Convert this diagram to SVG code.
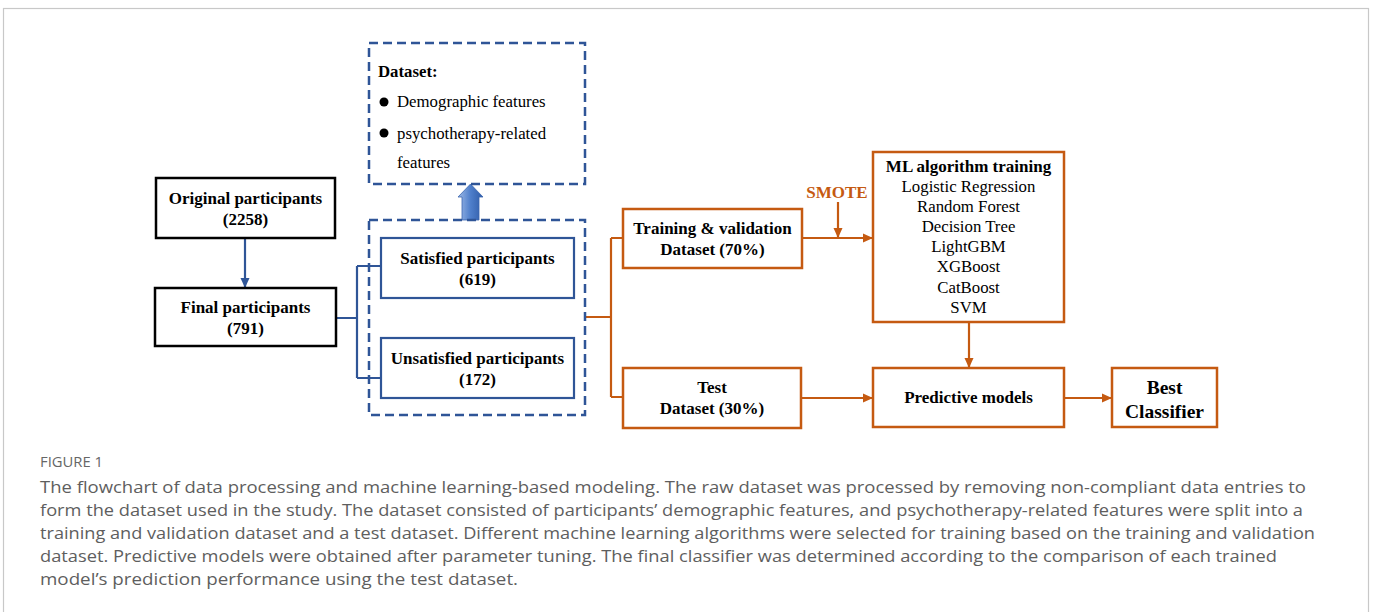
<svg xmlns="http://www.w3.org/2000/svg" width="1375" height="612" viewBox="0 0 1375 612">
<style>
.bx{fill:#fff;stroke:#000;stroke-width:2.5}
.bb{fill:#fff;stroke:#2F5597;stroke-width:2.2}
.bo{fill:#fff;stroke:#C55A11;stroke-width:2.5}
.dash{fill:none;stroke:#2F5597;stroke-width:2.5;stroke-dasharray:9 5}
.t{font-family:"Liberation Serif","Times New Roman",serif;font-size:16.8px;fill:#000}
.tb{font-family:"Liberation Serif","Times New Roman",serif;font-size:17px;font-weight:bold;fill:#000;text-anchor:middle}
.tc{font-family:"Liberation Serif","Times New Roman",serif;font-size:16.8px;fill:#000;text-anchor:middle}
.cb{fill:none;stroke:#2F5597;stroke-width:2.2}
.co{fill:none;stroke:#C55A11;stroke-width:2.2}
.cap{font-family:"Open Sans","Noto Sans",sans-serif;font-size:16.5px;fill:#5e5e5e}
</style>
<defs>
<marker id="ab" markerWidth="10" markerHeight="10" refX="9" refY="5" orient="auto" markerUnits="userSpaceOnUse"><path d="M0,0.5 L10,5 L0,9.5 Z" fill="#2F5597"/></marker>
<marker id="ao" markerWidth="10" markerHeight="10" refX="9" refY="5" orient="auto" markerUnits="userSpaceOnUse"><path d="M0,0.5 L10,5 L0,9.5 Z" fill="#C55A11"/></marker>
<linearGradient id="gb" x1="0" y1="0" x2="1" y2="0"><stop offset="0" stop-color="#9DB9E6"/><stop offset="0.5" stop-color="#4F7FCB"/><stop offset="1" stop-color="#2F5CA8"/></linearGradient>
</defs>
<rect x="3.5" y="8.5" width="1365" height="620" fill="#fff" stroke="#c8c8c8" stroke-width="1.2"/>

<g id="connectors">
<path class="cb" d="M245,238 V287" marker-end="url(#ab)"/>
<path class="cb" d="M336,318 H357 M357,266 V378 M357,266 H381 M357,378 H381"/>
<path class="co" d="M586,317 H611 M611,238 V397 M611,238 H623 M611,397 H623"/>
<path class="co" d="M802,238 H872" marker-end="url(#ao)"/>
<path class="co" d="M838,202 V237" marker-end="url(#ao)"/>
<path class="co" d="M801,398 H872" marker-end="url(#ao)"/>
<path class="co" d="M969,322 V367" marker-end="url(#ao)"/>
<path class="co" d="M1064,398 H1111" marker-end="url(#ao)"/>
<path d="M462,220 V197 H458 L470.5,184 L483,197 H479 V220 Z" fill="url(#gb)" stroke="#3A66AE" stroke-width="0.8"/>
</g>

<g id="dataset">
<rect class="dash" x="369" y="43" width="216" height="141"/>
<text class="t" x="378" y="77" font-weight="bold">Dataset:</text>
<circle cx="384" cy="102" r="4.5" fill="#000"/>
<text class="t" x="397" y="107">Demographic features</text>
<circle cx="384" cy="133" r="4.5" fill="#000"/>
<text class="t" x="397" y="139">psychotherapy-related</text>
<text class="t" x="397" y="168">features</text>
</g>

<g id="group-box">
<rect class="dash" x="369" y="220" width="216" height="195"/>
</g>

<g id="original">
<rect class="bx" x="156" y="178" width="179" height="60"/>
<text class="tb" x="245.5" y="204">Original participants</text>
<text class="tb" x="245.5" y="225">(2258)</text>
</g>

<g id="final">
<rect class="bx" x="155" y="288" width="181" height="58"/>
<text class="tb" x="245.5" y="313">Final participants</text>
<text class="tb" x="245.5" y="334">(791)</text>
</g>

<g id="satisfied">
<rect class="bb" x="381" y="238" width="193" height="60"/>
<text class="tb" x="477.5" y="264">Satisfied participants</text>
<text class="tb" x="477.5" y="285">(619)</text>
</g>

<g id="unsatisfied">
<rect class="bb" x="381" y="338" width="193" height="60"/>
<text class="tb" x="477.5" y="364">Unsatisfied participants</text>
<text class="tb" x="477.5" y="385">(172)</text>
</g>

<g id="training">
<rect class="bo" x="623" y="209" width="179" height="59"/>
<text class="tb" x="712.5" y="234">Training &amp; validation</text>
<text class="tb" x="712.5" y="255">Dataset (70%)</text>
</g>

<g id="smote">
<text class="tb" x="837" y="198" style="fill:#C55A11">SMOTE</text>
</g>

<g id="test">
<rect class="bo" x="623" y="368" width="178" height="60"/>
<text class="tb" x="712" y="393">Test</text>
<text class="tb" x="712" y="414">Dataset (30%)</text>
</g>

<g id="ml">
<rect class="bo" x="873" y="152" width="191" height="170"/>
<text class="tb" x="968.5" y="172">ML algorithm training</text>
<text class="tc" x="968.5" y="192">Logistic Regression</text>
<text class="tc" x="968.5" y="212">Random Forest</text>
<text class="tc" x="968.5" y="232">Decision Tree</text>
<text class="tc" x="968.5" y="252">LightGBM</text>
<text class="tc" x="968.5" y="272">XGBoost</text>
<text class="tc" x="968.5" y="293">CatBoost</text>
<text class="tc" x="968.5" y="313">SVM</text>
</g>

<g id="predictive">
<rect class="bo" x="873" y="368" width="191" height="59"/>
<text class="tb" x="968.5" y="403">Predictive models</text>
</g>

<g id="best">
<rect class="bo" x="1112" y="368" width="105" height="59"/>
<text class="tb" x="1164.5" y="394" style="font-size:19.5px">Best</text>
<text class="tb" x="1164.5" y="418" style="font-size:19.5px">Classifier</text>
</g>

<g id="caption">
<text x="40" y="467" style="font-family:'Open Sans','Noto Sans',sans-serif;font-size:14px;fill:#666" textLength="63" lengthAdjust="spacingAndGlyphs">FIGURE 1</text>
<text class="cap" x="40" y="493" textLength="1266" lengthAdjust="spacingAndGlyphs">The flowchart of data processing and machine learning-based modeling. The raw dataset was processed by removing non-compliant data entries to</text>
<text class="cap" x="40" y="516" textLength="1263" lengthAdjust="spacingAndGlyphs">form the dataset used in the study. The dataset consisted of participants’ demographic features, and psychotherapy-related features were split into a</text>
<text class="cap" x="40" y="539" textLength="1275" lengthAdjust="spacingAndGlyphs">training and validation dataset and a test dataset. Different machine learning algorithms were selected for training based on the training and validation</text>
<text class="cap" x="40" y="562" textLength="1237" lengthAdjust="spacingAndGlyphs">dataset. Predictive models were obtained after parameter tuning. The final classifier was determined according to the comparison of each trained</text>
<text class="cap" x="40" y="585" textLength="478" lengthAdjust="spacingAndGlyphs">model’s prediction performance using the test dataset.</text>
</g>
</svg>
